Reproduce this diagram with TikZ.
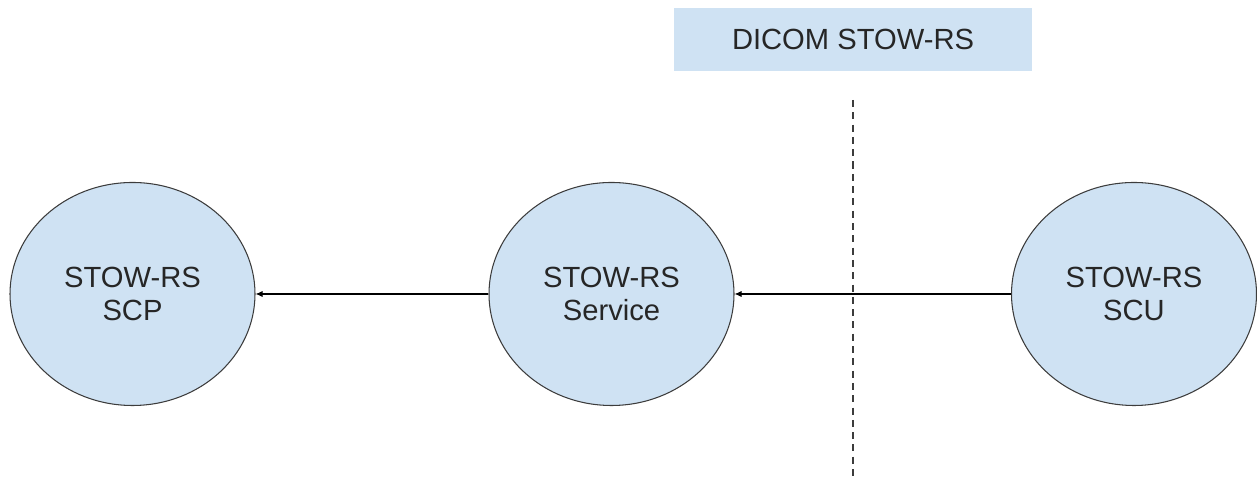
\documentclass[tikz,border=0pt]{standalone}
\usepackage{fontspec}
\setmainfont{Liberation Sans}
\usetikzlibrary{arrows.meta,shapes.geometric}
\definecolor{lightblue}{HTML}{CFE2F3}
\definecolor{darkgray}{HTML}{3C3C3C}
\begin{document}
\begin{tikzpicture}
  \useasboundingbox (0,0) rectangle (25.14,9.62);
  \begin{scope}[every node/.style={ellipse,draw=darkgray,line width=0.6pt,fill=lightblue,
      minimum width=4.9cm,minimum height=4.46cm,inner sep=0pt,align=center,
      font=\fontsize{16.6}{18.9}\selectfont,text=black!85}]
  \node (scp) at (2.65,3.74) {STOW-RS\\SCP};
  \node (service) at (12.23,3.74) {STOW-RS\\Service};
  \node (scu) at (22.68,3.74) {STOW-RS\\SCU};
  \end{scope}
  \node[fill=lightblue,minimum width=7.16cm,minimum height=1.26cm,inner sep=0pt,
    font=\fontsize{16.6}{18.9}\selectfont,text=black!85] (title) at (17.06,8.83) {DICOM STOW-RS};
  \coordinate (top) at (17.06,7.62);
  \coordinate (bottom) at (17.06,0);
  \draw[darkgray,line width=0.6pt,dash pattern=on 4pt off 3pt] (top) -- (bottom);
  \begin{scope}[every edge/.style={draw=black,line width=0.6pt,-{Latex[length=4pt,width=3.5pt]}}]
  \path (scu) edge (service);
  \path (service) edge (scp);
  \end{scope}
\end{tikzpicture}
\end{document}
